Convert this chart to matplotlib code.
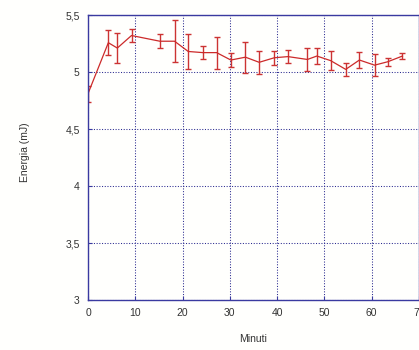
import matplotlib
matplotlib.use('Agg')
import matplotlib.pyplot as plt
from matplotlib.ticker import FuncFormatter

# data
minuti = [0, 4.3, 6.2, 9.2, 15.2, 18.3, 21.2, 24.3, 27.2, 30.2, 33.3,
          36.2, 39.4, 42.3, 46.4, 48.4, 51.3, 54.5, 57.4, 60.6, 63.4, 66.5]
energia = [4.81, 5.257, 5.21, 5.32, 5.27, 5.27, 5.18, 5.17, 5.17, 5.105, 5.13,
           5.085, 5.125, 5.135, 5.11, 5.14, 5.10, 5.023, 5.105, 5.06, 5.09, 5.14]
errore = [0.07, 0.11, 0.13, 0.06, 0.06, 0.185, 0.155, 0.06, 0.14, 0.063, 0.135,
          0.10, 0.06, 0.06, 0.10, 0.073, 0.08, 0.06, 0.07, 0.095, 0.034, 0.025]

plt.rcParams['font.family'] = ['Liberation Sans', 'DejaVu Sans']

fig = plt.figure(figsize=(4.19, 3.5), dpi=100, facecolor='#fffffd')
ax = fig.add_axes([88/419, 50/350, 331/419, 285/350])
ax.set_facecolor('#fffffd')

ax.errorbar(minuti, energia, yerr=errore, color='#cc2a2a', ecolor='#cc3333',
            lw=0.9, elinewidth=1.0, capsize=2.5, capthick=1.0)

ax.set_xlim(0, 70)
ax.set_ylim(3, 5.5)
ax.set_xticks(range(0, 71, 10))
ax.set_yticks([3, 3.5, 4, 4.5, 5, 5.5])
ax.yaxis.set_major_formatter(FuncFormatter(lambda v, p: ('%g' % v).replace('.', ',')))
ax.grid(True, color='#2a2a90', ls=(0, (1, 1.6)), lw=0.75)

for s in ax.spines.values():
    s.set_color('#3a3aa0')
    s.set_linewidth(1.0)

ax.tick_params(direction='in', length=3, color='#3a3aa0', labelsize=7.5,
               labelcolor='#333333', pad=6)
ax.set_xlabel('Minuti', fontsize=7.5, color='#333333', labelpad=11)
ax.set_ylabel('Energia (mJ)', fontsize=7.5, color='#333333', labelpad=29)
ax.yaxis.set_label_coords(-58/331, 0.52)

fig.savefig('out.png', dpi=100, facecolor=fig.get_facecolor())
